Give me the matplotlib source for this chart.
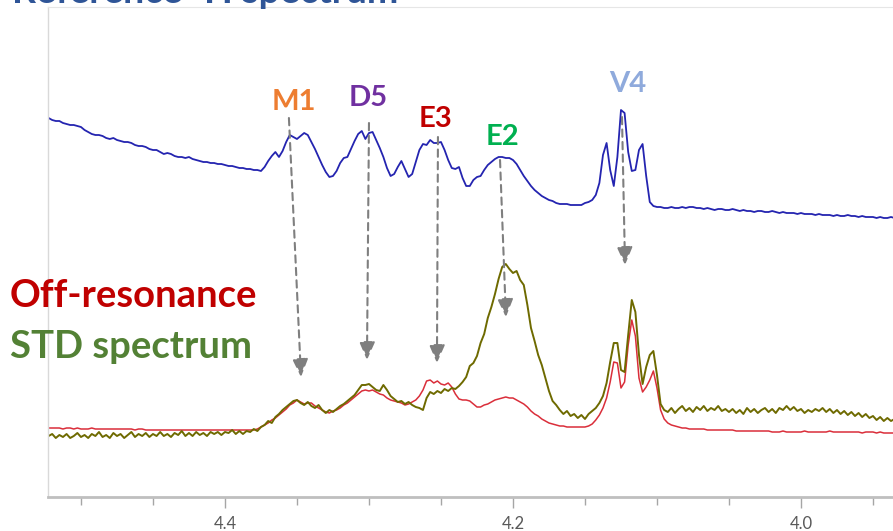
import numpy as np
import matplotlib
matplotlib.use("Agg")
import matplotlib.pyplot as plt
from matplotlib.ticker import MultipleLocator, FuncFormatter

# ---------------- data ----------------
# chemical-shift grid (ppm) of the sampled spectra
ppm_start = 4.5225
ppm_step = 0.0025

# Reference 1H spectrum (stacked, a.u.)
reference = [
    379, 377, 376, 376, 374, 373, 372, 372, 371, 370,
    367, 365, 363, 362, 362, 361, 359, 358, 359, 357,
    356, 355, 355, 354, 352, 351, 351, 350, 348, 347,
    347, 345, 343, 344, 343, 341, 340, 340, 339, 340,
    338, 337, 336, 335, 335, 334, 334, 333, 333, 332,
    331, 331, 330, 329, 329, 328, 328, 327, 327, 326,
    330, 336, 341, 345, 340, 346, 355, 362, 360, 358,
    361, 364, 362, 355, 348, 340, 332, 325, 320, 321,
    326, 334, 339, 340, 348, 356, 363, 366, 358, 364,
    365, 357, 349, 340, 329, 321, 323, 330, 336, 328,
    320, 323, 335, 347, 353, 352, 357, 354, 354, 355,
    347, 337, 329, 328, 330, 319, 311, 311, 317, 320,
    321, 327, 332, 335, 338, 340, 340, 339, 339, 337,
    333, 327, 321, 316, 311, 307, 304, 301, 299, 297,
    296, 294, 293, 293, 293, 292, 292, 292, 292, 294,
    295, 297, 302, 314, 342, 354, 327, 311, 340, 387,
    384, 345, 326, 327, 347, 353, 321, 295, 291, 290,
    290, 289, 289, 290, 289, 289, 290, 289, 290, 290,
    289, 289, 288, 289, 288, 287, 288, 288, 287, 287,
    288, 287, 286, 287, 286, 286, 285, 286, 286, 285,
    285, 286, 285, 284, 285, 284, 284, 284, 283, 284,
    283, 283, 283, 282, 283, 282, 282, 282, 281, 282,
    281, 281, 282, 281, 281, 280, 281, 280, 280, 280,
    279, 280, 279, 279, 280, 279,
]

# STD spectrum (a.u.)
std_spectrum = [
    61, 63, 59, 62, 60, 63, 59, 61, 64, 60,
    62, 59, 63, 61, 65, 60, 62, 59, 64, 61,
    63, 59, 62, 65, 60, 63, 61, 64, 60, 63,
    61, 65, 61, 63, 60, 64, 62, 66, 61, 64,
    61, 65, 62, 64, 61, 65, 63, 65, 62, 65,
    64, 67, 63, 66, 63, 66, 65, 68, 66, 70,
    72, 76, 74, 80, 83, 87, 90, 93, 96, 97,
    94, 92, 95, 91, 89, 92, 87, 84, 87, 85,
    88, 91, 93, 96, 99, 102, 107, 112, 112, 113,
    110, 107, 106, 112, 107, 101, 98, 95, 96, 93,
    95, 92, 90, 89, 87, 99, 105, 103, 106, 104,
    108, 106, 109, 108, 111, 115, 120, 131, 134, 141,
    154, 163, 179, 190, 203, 218, 230, 233, 228, 224,
    226, 217, 212, 192, 169, 156, 142, 132, 119, 106,
    96, 92, 87, 83, 86, 81, 83, 79, 82, 78,
    83, 86, 89, 94, 101, 114, 135, 154, 154, 127,
    125, 162, 197, 185, 142, 113, 130, 142, 146, 122,
    93, 87, 85, 89, 84, 88, 91, 86, 89, 85,
    90, 87, 91, 86, 89, 87, 91, 86, 88, 85,
    88, 84, 87, 83, 89, 85, 88, 84, 87, 89,
    85, 88, 84, 89, 87, 91, 87, 90, 86, 88,
    84, 87, 85, 88, 86, 89, 85, 88, 84, 87,
    83, 86, 82, 85, 81, 84, 80, 83, 79, 81,
    77, 80, 76, 79, 76, 78,
]

# Off-resonance spectrum (a.u.)
off_resonance = [
    69, 69, 69, 69, 68, 69, 69, 68, 69, 68,
    68, 68, 69, 68, 68, 68, 68, 68, 68, 68,
    68, 68, 68, 68, 67, 68, 68, 67, 67, 67,
    67, 67, 67, 67, 67, 67, 67, 67, 67, 67,
    67, 67, 67, 67, 67, 67, 67, 67, 67, 67,
    67, 67, 67, 67, 67, 67, 67, 67, 68, 70,
    72, 74, 77, 79, 82, 85, 88, 92, 94, 97,
    95, 93, 94, 94, 91, 89, 87, 85, 84, 86,
    87, 89, 92, 94, 97, 100, 103, 106, 107, 106,
    107, 105, 103, 102, 99, 97, 96, 95, 94, 92,
    93, 95, 97, 101, 107, 116, 117, 114, 116, 113,
    112, 114, 110, 103, 98, 97, 97, 96, 93, 90,
    90, 92, 93, 95, 97, 98, 99, 100, 99, 99,
    97, 95, 93, 90, 86, 83, 81, 78, 76, 74,
    73, 72, 71, 71, 70, 70, 70, 70, 70, 70,
    71, 73, 77, 82, 89, 99, 115, 135, 134, 109,
    115, 152, 177, 161, 119, 105, 110, 117, 126, 109,
    87, 78, 74, 72, 71, 70, 69, 69, 68, 68,
    68, 68, 68, 67, 67, 67, 67, 67, 67, 67,
    67, 66, 66, 66, 66, 66, 66, 66, 66, 66,
    66, 65, 65, 65, 66, 65, 65, 65, 65, 65,
    66, 65, 65, 65, 65, 65, 65, 66, 65, 65,
    65, 65, 65, 65, 65, 65, 64, 65, 65, 65,
    64, 65, 64, 64, 64, 64,
]

# peak labels: name, label position (ppm, a.u.), arrow start, arrow tip
peak_names = ["M1", "D5", "E3", "E2", "V4"]
peak_colors = ["#ED7D31", "#7030A0", "#C00000", "#00B050", "#8FAADC"]
label_ppm = [4.3525, 4.3007, 4.2535, 4.2076, 4.1201]
label_int = [395, 399, 378, 360, 413]
arrow_start_ppm = [4.3556, 4.3000, 4.2521, 4.2090, 4.1243]
arrow_start_int = [379, 374, 360, 337, 380]
arrow_tip_ppm = [4.3472, 4.3014, 4.2528, 4.2049, 4.1222]
arrow_tip_int = [120, 137, 134, 180, 232]

# ---------------- figure ----------------
W, H = 893, 531
fig = plt.figure(figsize=(W / 100, H / 100), dpi=100)
ax = fig.add_axes([48 / W, (531 - 497) / H, 1.0 - 48 / W, (497 - 7) / H])

n = len(reference)
ppm = ppm_start - ppm_step * np.arange(n)

ax.plot(ppm, reference, color="#2424B0", lw=1.3, solid_joinstyle="round")
ax.plot(ppm[:len(off_resonance)], off_resonance, color="#DA2E3A", lw=1.1)
ax.plot(ppm[:len(std_spectrum)], std_spectrum, color="#6E6A00", lw=1.4)

for i, name in enumerate(peak_names):
    ax.annotate(
        "",
        xy=(arrow_tip_ppm[i], arrow_tip_int[i]),
        xytext=(arrow_start_ppm[i], arrow_start_int[i]),
        arrowprops=dict(
            arrowstyle="-|>,head_length=0.55,head_width=0.24",
            color="#7F7F7F", lw=1.5, linestyle=(0, (3.5, 2.5)),
            shrinkA=0, shrinkB=0, mutation_scale=20,
        ),
    )
    ax.text(label_ppm[i], label_int[i], name, color=peak_colors[i],
            fontsize=21, fontweight="bold", family="Lato",
            ha="center", va="center")

ax.set_xlim(4.5229, 3.9361)
ax.set_ylim(0, 490)

ax.xaxis.set_major_locator(MultipleLocator(0.2))
ax.xaxis.set_minor_locator(MultipleLocator(0.05))
ax.xaxis.set_major_formatter(FuncFormatter(lambda v, p: f"{v:.1f}"))
ax.tick_params(axis="x", which="major", length=8, width=1.0, color="#A6A6A6",
               labelcolor="#595959", labelsize=12, pad=6)
ax.tick_params(axis="x", which="minor", length=6, width=1.0, color="#A6A6A6")
for lab in ax.get_xticklabels():
    lab.set_family("Lato")
ax.set_yticks([])

ax.spines["bottom"].set_color("#BFBFBF")
ax.spines["bottom"].set_linewidth(2.0)
ax.spines["left"].set_color("#D9D9D9")
ax.spines["left"].set_linewidth(1.0)
ax.spines["top"].set_color("#E6E6E6")
ax.spines["top"].set_linewidth(0.8)
ax.spines["right"].set_visible(False)

fig.text(12 / W, (531 - 3) / H, "Reference \u00b9H spectrum", color="#2F5597",
         fontsize=27, fontweight="bold", family="Lato", va="baseline", ha="left")
fig.text(10 / W, (531 - 307) / H, "Off-resonance", color="#C00000",
         fontsize=27.5, fontweight="bold", family="Lato", va="baseline", ha="left")
fig.text(10 / W, (531 - 358) / H, "STD spectrum", color="#538135",
         fontsize=27.5, fontweight="bold", family="Lato", va="baseline", ha="left")

fig.savefig("out.png", dpi=100)
